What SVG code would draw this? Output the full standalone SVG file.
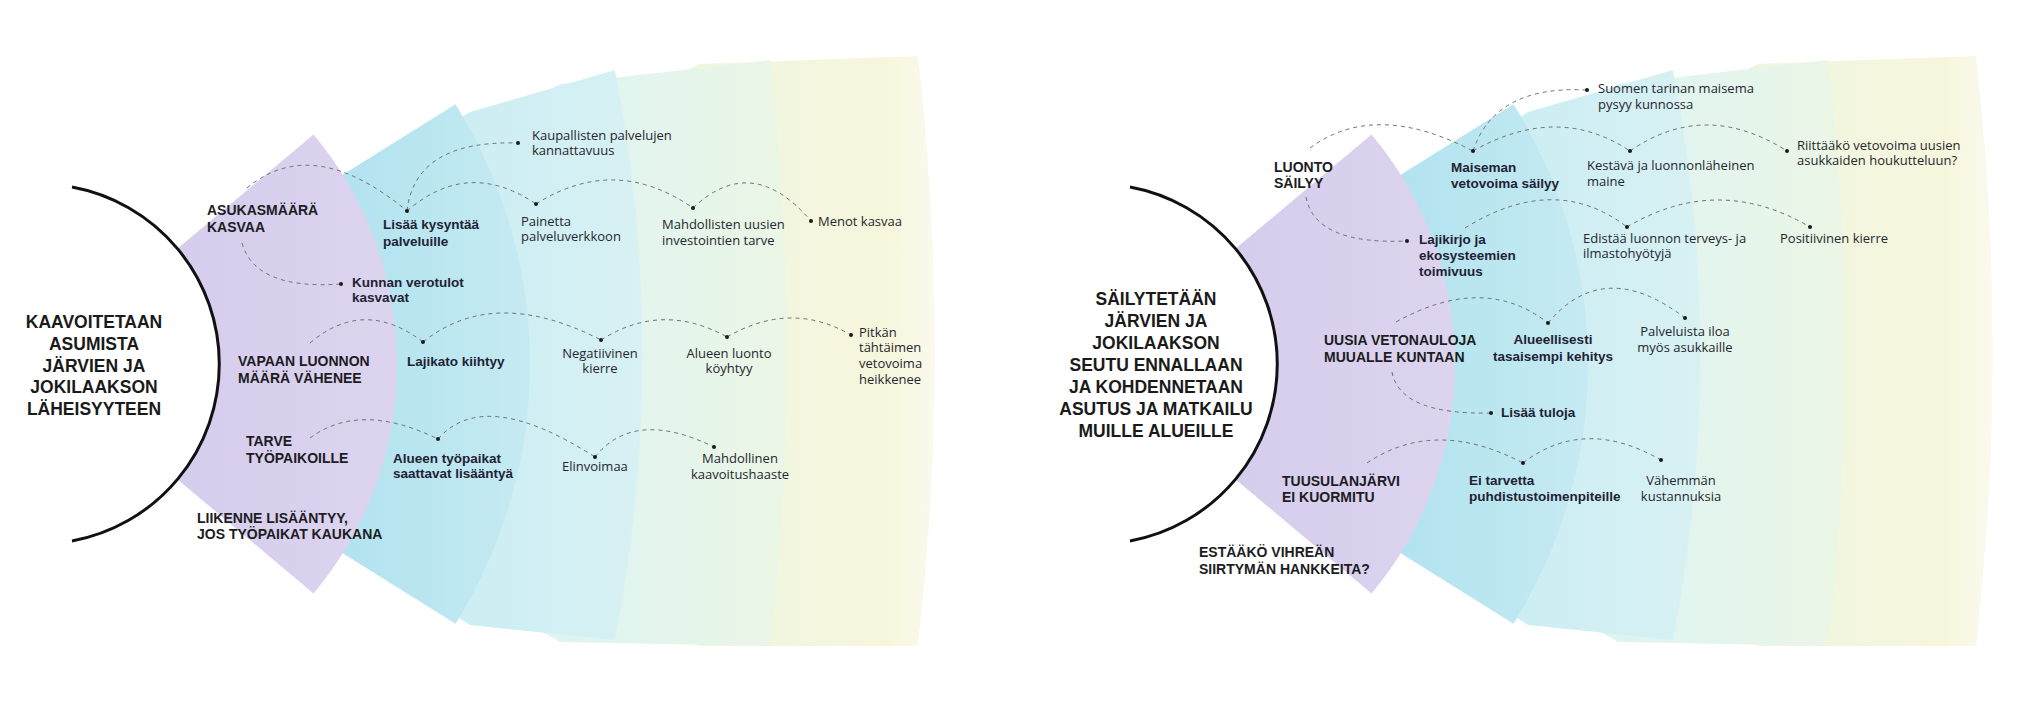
<svg xmlns="http://www.w3.org/2000/svg" xmlns:xlink="http://www.w3.org/1999/xlink" width="2018" height="711" viewBox="0 0 2018 711">
<style>
.mn{font-family:"Liberation Sans",Arial,sans-serif;font-weight:700;font-size:17.5px;fill:#1a1a1a;text-anchor:middle}
.hd{font-family:"Liberation Sans",Arial,sans-serif;font-weight:700;font-size:14px;fill:#1c1c22}
.b{font-family:"Liberation Sans",Arial,sans-serif;font-weight:700;font-size:13.5px;fill:#1f2233}
.r{font-family:"Open Sans",Lato,sans-serif;font-size:13px;fill:#26262e}
.mid{text-anchor:middle}
.cn{fill:none;stroke:#707070;stroke-width:1;stroke-dasharray:4 4}
.dot{fill:#1a1a1a}
.arc{fill:none;stroke:#111;stroke-width:3}
</style>
<defs>
<linearGradient id="gP" gradientUnits="userSpaceOnUse" x1="180" y1="0" x2="400" y2="0"><stop offset="0" stop-color="#d5cdec"/><stop offset="1" stop-color="#ddd4ef"/></linearGradient>
<linearGradient id="gB" gradientUnits="userSpaceOnUse" x1="200" y1="0" x2="530" y2="0"><stop offset="0" stop-color="#a9def0"/><stop offset="0.6" stop-color="#b7e5f0"/><stop offset="1" stop-color="#c6eaf2"/></linearGradient>
<linearGradient id="gC" gradientUnits="userSpaceOnUse" x1="420" y1="0" x2="643" y2="0"><stop offset="0" stop-color="#c9edf4"/><stop offset="1" stop-color="#d8f1f3"/></linearGradient>
<linearGradient id="gD" gradientUnits="userSpaceOnUse" x1="560" y1="0" x2="787" y2="0"><stop offset="0" stop-color="#def4f2"/><stop offset="1" stop-color="#ebf6e5"/></linearGradient>
<linearGradient id="gE" gradientUnits="userSpaceOnUse" x1="700" y1="0" x2="935" y2="0"><stop offset="0" stop-color="#eff6e0"/><stop offset="0.8" stop-color="#f7f6dd"/><stop offset="1" stop-color="#fafaee"/></linearGradient>
<g id="fan">
<path fill="url(#gE)" d="M209,302 L700,64 L918,56 A2600,2600 0 0 1 918,646 L700,646 L209,426 A180,180 0 0 0 209,302 Z"/>
<path fill="url(#gD)" d="M204,291 L560,84 L770,60 A2500,2500 0 0 1 770,646 L560,642 L204,437 A180,180 0 0 0 204,291 Z"/>
<path fill="url(#gC)" d="M198,278 L470,112 L615,70 A1500,1500 0 0 1 615,640 L470,625 L198,450 A180,180 0 0 0 198,278 Z"/>
<path fill="url(#gB)" d="M192.6,268.6 L455.5,104.3 A490,490 0 0 1 455.5,623.7 L192.6,459.4 A180,180 0 0 0 192.6,268.6 Z"/>
<path fill="url(#gP)" d="M177.9,248.3 L313.5,134.5 A357,357 0 0 1 313.5,593.5 L177.9,479.7 A180,180 0 0 0 177.9,248.3 Z"/>
</g>
</defs>
<rect width="2018" height="711" fill="#fff"/>
<g id="backgrounds">
<use xlink:href="#fan" href="#fan"/>
<use xlink:href="#fan" href="#fan" x="1058"/>
</g>
<path class="arc" d="M72,187 A180,180 0 0 1 72,541"/>
<path class="arc" d="M1130,187 A180,180 0 0 1 1130,541"/>

<g id="connectors">
<path class="cn" d="M247,188 Q313,133 407,211"/>
<path class="cn" d="M242,243 Q255,290 341,284"/>
<path class="cn" d="M407,211 Q415,140 518,143"/>
<path class="cn" d="M407,211 Q468,158 536,204"/>
<path class="cn" d="M536,204 Q615,154 693,208"/>
<path class="cn" d="M693,208 Q752,152 811,221"/>
<path class="cn" d="M310,343 Q364,297 423,342"/>
<path class="cn" d="M423,342 Q494,285 601,340"/>
<path class="cn" d="M601,340 Q662,301 727,337"/>
<path class="cn" d="M727,337 Q791,300 851,335"/>
<path class="cn" d="M310,438 Q360,401 438,439"/>
<path class="cn" d="M438,439 Q484,386 595,457"/>
<path class="cn" d="M595,457 Q634,408 714,447"/>
<path class="cn" d="M1310,148 Q1375,100 1473,151"/>
<path class="cn" d="M1306,197 Q1315,245 1407,241"/>
<path class="cn" d="M1473,151 Q1495,85 1587,90"/>
<path class="cn" d="M1473,151 Q1558,103 1630,151"/>
<path class="cn" d="M1630,151 Q1705,99 1787,151"/>
<path class="cn" d="M1465,228 Q1555,172 1627,227"/>
<path class="cn" d="M1627,227 Q1718,173 1810,227"/>
<path class="cn" d="M1396,322 Q1484,273 1548,323"/>
<path class="cn" d="M1548,323 Q1604,256 1685,318"/>
<path class="cn" d="M1392,372 Q1400,415 1491,413"/>
<path class="cn" d="M1367,463 Q1435,417 1523,463"/>
<path class="cn" d="M1523,463 Q1584,416 1661,460"/>
</g>

<g id="main-left"><text class="mn"><tspan x="94" y="328">KAAVOITETAAN</tspan><tspan x="94" y="350">ASUMISTA</tspan><tspan x="94" y="372">JÄRVIEN JA</tspan><tspan x="94" y="393">JOKILAAKSON</tspan><tspan x="94" y="415">LÄHEISYYTEEN</tspan></text></g>
<g id="main-right"><text class="mn"><tspan x="1156" y="305">SÄILYTETÄÄN</tspan><tspan x="1156" y="327">JÄRVIEN JA</tspan><tspan x="1156" y="349">JOKILAAKSON</tspan><tspan x="1156" y="371">SEUTU ENNALLAAN</tspan><tspan x="1156" y="393">JA KOHDENNETAAN</tspan><tspan x="1156" y="415">ASUTUS JA MATKAILU</tspan><tspan x="1156" y="437">MUILLE ALUEILLE</tspan></text></g>

<g id="h-asukas"><text class="hd"><tspan x="207" y="215">ASUKASMÄÄRÄ</tspan><tspan x="207" y="232">KASVAA</tspan></text></g>
<g id="h-vapaan"><text class="hd"><tspan x="238" y="366">VAPAAN LUONNON</tspan><tspan x="238" y="383">MÄÄRÄ VÄHENEE</tspan></text></g>
<g id="h-tarve"><text class="hd"><tspan x="246" y="446">TARVE</tspan><tspan x="246" y="463">TYÖPAIKOILLE</tspan></text></g>
<g id="h-liikenne"><text class="hd"><tspan x="197" y="523">LIIKENNE LISÄÄNTYY,</tspan><tspan x="197" y="539">JOS TYÖPAIKAT KAUKANA</tspan></text></g>

<g id="n-lisaa"><circle class="dot" cx="407" cy="211" r="2"/><text class="b"><tspan x="383" y="229">Lisää kysyntää</tspan><tspan x="383" y="246">palveluille</tspan></text></g>
<g id="n-kunnan"><circle class="dot" cx="341" cy="284" r="2"/><text class="b"><tspan x="352" y="287">Kunnan verotulot</tspan><tspan x="352" y="302">kasvavat</tspan></text></g>
<g id="n-kaupallisten"><circle class="dot" cx="518" cy="143" r="2"/><text class="r"><tspan x="532" y="140">Kaupallisten palvelujen</tspan><tspan x="532" y="155">kannattavuus</tspan></text></g>
<g id="n-painetta"><circle class="dot" cx="536" cy="204" r="2"/><text class="r"><tspan x="521" y="226">Painetta</tspan><tspan x="521" y="241">palveluverkkoon</tspan></text></g>
<g id="n-mahdollisten"><circle class="dot" cx="693" cy="208" r="2"/><text class="r"><tspan x="662" y="229">Mahdollisten uusien</tspan><tspan x="662" y="245">investointien tarve</tspan></text></g>
<g id="n-menot"><circle class="dot" cx="811" cy="221" r="2"/><text class="r" x="818" y="226">Menot kasvaa</text></g>
<g id="n-lajikato"><circle class="dot" cx="423" cy="342" r="2"/><text class="b" x="407" y="366">Lajikato kiihtyy</text></g>
<g id="n-negatiivinen"><circle class="dot" cx="601" cy="340" r="2"/><text class="r mid"><tspan x="600" y="358">Negatiivinen</tspan><tspan x="600" y="373">kierre</tspan></text></g>
<g id="n-alueenluonto"><circle class="dot" cx="727" cy="337" r="2"/><text class="r mid"><tspan x="729" y="358">Alueen luonto</tspan><tspan x="729" y="373">köyhtyy</tspan></text></g>
<g id="n-pitkan"><circle class="dot" cx="851" cy="335" r="2"/><text class="r"><tspan x="859" y="337">Pitkän</tspan><tspan x="859" y="352">tähtäimen</tspan><tspan x="859" y="368">vetovoima</tspan><tspan x="859" y="384">heikkenee</tspan></text></g>
<g id="n-tyopaikat"><circle class="dot" cx="438" cy="439" r="2"/><text class="b"><tspan x="393" y="463">Alueen työpaikat</tspan><tspan x="393" y="478">saattavat lisääntyä</tspan></text></g>
<g id="n-elinvoimaa"><circle class="dot" cx="595" cy="457" r="2"/><text class="r" x="562" y="471">Elinvoimaa</text></g>
<g id="n-mahdollinen"><circle class="dot" cx="714" cy="447" r="2"/><text class="r mid"><tspan x="740" y="463">Mahdollinen</tspan><tspan x="740" y="479">kaavoitushaaste</tspan></text></g>

<g id="h-luonto"><text class="hd"><tspan x="1274" y="172">LUONTO</tspan><tspan x="1274" y="188">SÄILYY</tspan></text></g>
<g id="h-uusia"><text class="hd"><tspan x="1324" y="345">UUSIA VETONAULOJA</tspan><tspan x="1324" y="362">MUUALLE KUNTAAN</tspan></text></g>
<g id="h-tuusula"><text class="hd"><tspan x="1282" y="486">TUUSULANJÄRVI</tspan><tspan x="1282" y="502">EI KUORMITU</tspan></text></g>
<g id="h-estaako"><text class="hd"><tspan x="1199" y="557">ESTÄÄKÖ VIHREÄN</tspan><tspan x="1199" y="574">SIIRTYMÄN HANKKEITA?</tspan></text></g>

<g id="n-maiseman"><circle class="dot" cx="1473" cy="151" r="2"/><text class="b"><tspan x="1451" y="172">Maiseman</tspan><tspan x="1451" y="188">vetovoima säilyy</tspan></text></g>
<g id="n-lajikirjo"><circle class="dot" cx="1407" cy="241" r="2"/><text class="b"><tspan x="1419" y="244">Lajikirjo ja</tspan><tspan x="1419" y="260">ekosysteemien</tspan><tspan x="1419" y="276">toimivuus</tspan></text></g>
<g id="n-suomen"><circle class="dot" cx="1587" cy="90" r="2"/><text class="r"><tspan x="1598" y="93">Suomen tarinan maisema</tspan><tspan x="1598" y="109">pysyy kunnossa</tspan></text></g>
<g id="n-kestava"><circle class="dot" cx="1630" cy="151" r="2"/><text class="r"><tspan x="1587" y="170">Kestävä ja luonnonläheinen</tspan><tspan x="1587" y="186">maine</tspan></text></g>
<g id="n-riittaako"><circle class="dot" cx="1787" cy="151" r="2"/><text class="r"><tspan x="1797" y="150">Riittääkö vetovoima uusien</tspan><tspan x="1797" y="165">asukkaiden houkutteluun?</tspan></text></g>
<g id="n-edistaa"><circle class="dot" cx="1627" cy="227" r="2"/><text class="r"><tspan x="1583" y="243">Edistää luonnon terveys- ja</tspan><tspan x="1583" y="258">ilmastohyötyjä</tspan></text></g>
<g id="n-positiivinen"><circle class="dot" cx="1810" cy="227" r="2"/><text class="r" x="1780" y="243">Positiivinen kierre</text></g>
<g id="n-alueellisesti"><circle class="dot" cx="1548" cy="323" r="2"/><text class="b mid"><tspan x="1553" y="344">Alueellisesti</tspan><tspan x="1553" y="361">tasaisempi kehitys</tspan></text></g>
<g id="n-palveluista"><circle class="dot" cx="1685" cy="318" r="2"/><text class="r mid"><tspan x="1685" y="336">Palveluista iloa</tspan><tspan x="1685" y="352">myös asukkaille</tspan></text></g>
<g id="n-lisaatuloja"><circle class="dot" cx="1491" cy="413" r="2"/><text class="b" x="1501" y="417">Lisää tuloja</text></g>
<g id="n-eitarvetta"><circle class="dot" cx="1523" cy="463" r="2"/><text class="b"><tspan x="1469" y="485">Ei tarvetta</tspan><tspan x="1469" y="501">puhdistustoimenpiteille</tspan></text></g>
<g id="n-vahemman"><circle class="dot" cx="1661" cy="460" r="2"/><text class="r mid"><tspan x="1681" y="485">Vähemmän</tspan><tspan x="1681" y="501">kustannuksia</tspan></text></g>
</svg>
